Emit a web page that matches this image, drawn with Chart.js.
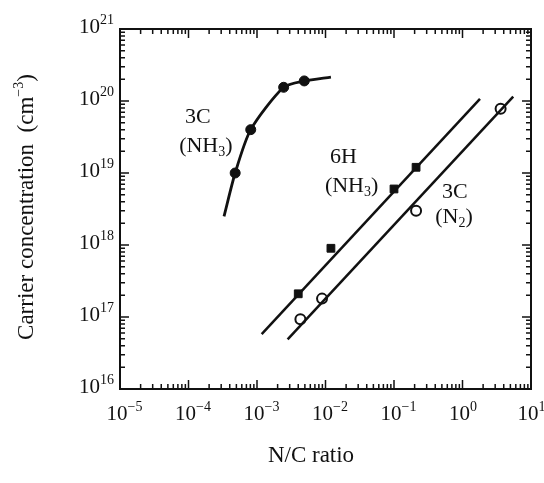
<!DOCTYPE html>
<html>
<head>
<meta charset="utf-8">
<script src="https://cdn.jsdelivr.net/npm/chart.js@4"></script>
<style>
  html, body { margin: 0; padding: 0; background: #fff; }
  #wrap { width: 544px; height: 483px; }
</style>
</head>
<body>
<div id="wrap"><canvas id="chart" width="544" height="483"></canvas></div>
<script>
// 3C grown with NH3 (filled circles + guide curve)
const nh3X = [4.8e-4, 8.1e-4, 2.45e-3, 4.9e-3];
const nh3Y = [1e19, 4e19, 1.55e20, 1.9e20];
const nh3CurveX = [3.3e-4, 4.8e-4, 8.1e-4, 2.45e-3, 4.9e-3, 1.2e-2];
const nh3CurveY = [2.5e18, 1e19, 4e19, 1.55e20, 1.9e20, 2.15e20];

// 6H grown with NH3 (filled squares + straight fit)
const h6X = [4e-3, 1.2e-2, 0.1, 0.21];
const h6Y = [2.1e17, 9e17, 6e18, 1.2e19];
const h6LineX = [1.17e-3, 1.8];
const h6LineY = [5.8e16, 1.07e20];

// 3C grown with N2 (open circles + straight fit)
const n2X = [4.3e-3, 8.9e-3, 0.21, 3.6];
const n2Y = [9.3e16, 1.8e17, 3e18, 7.8e19];
const n2LineX = [2.8e-3, 5.5];
const n2LineY = [4.9e16, 1.15e20];

const xExps = [-5, -4, -3, -2, -1, 0, 1];
const yExps = [16, 17, 18, 19, 20, 21];

const serif = '"Liberation Serif", "DejaVu Serif", serif';

const pts = (xs, ys) => xs.map((x, i) => ({ x, y: ys[i] }));

function supText(ctx, parts, x, y) {
  // parts: [text, size, dy]
  parts.forEach(p => {
    ctx.font = p[1] + 'px ' + serif;
    ctx.fillText(p[0], x, y + p[2]);
    x += ctx.measureText(p[0]).width;
  });
}

function expStr(e) {
  return e < 0 ? '\u2212' + Math.abs(e) : String(e);
}

const frame = {
  id: 'frame',
  afterDraw(chart) {
    const ctx = chart.ctx;
    const a = chart.chartArea;
    const xs = chart.scales.x, ys = chart.scales.y;
    ctx.save();
    ctx.strokeStyle = '#111';
    ctx.fillStyle = '#111';

    // ticks on all four sides, pointing inward
    ctx.lineWidth = 1.5;
    ctx.beginPath();
    for (let e = -5; e <= 1; e++) {
      for (let m = 1; m <= 9; m++) {
        const v = m * Math.pow(10, e);
        if (v > 10 || (e === 1 && m > 1)) continue;
        const px = xs.getPixelForValue(v);
        const len = m === 1 ? 9 : 5;
        ctx.moveTo(px, a.bottom); ctx.lineTo(px, a.bottom - len);
        ctx.moveTo(px, a.top); ctx.lineTo(px, a.top + len);
      }
    }
    for (let e = 16; e <= 21; e++) {
      for (let m = 1; m <= 9; m++) {
        if (e === 21 && m > 1) continue;
        const py = ys.getPixelForValue(m * Math.pow(10, e));
        const len = m === 1 ? 9 : 5;
        ctx.moveTo(a.left, py); ctx.lineTo(a.left + len, py);
        ctx.moveTo(a.right, py); ctx.lineTo(a.right - len, py);
      }
    }
    ctx.stroke();

    ctx.lineWidth = 2;
    ctx.strokeRect(a.left, a.top, a.right - a.left, a.bottom - a.top);

    // tick labels
    ctx.textBaseline = 'alphabetic';
    ctx.textAlign = 'left';
    xExps.forEach(e => {
      const px = xs.getPixelForValue(Math.pow(10, e));
      ctx.font = '21px ' + serif;
      const w = ctx.measureText('10').width;
      supText(ctx, [['10', 21, 0], [expStr(e), 14, -9]], px - 3 - w / 2, a.bottom + 31);
    });
    yExps.forEach(e => {
      const py = ys.getPixelForValue(Math.pow(10, e));
      ctx.font = '21px ' + serif;
      const w = ctx.measureText('10').width;
      ctx.fillText('10', 100 - w, py + 4);
      ctx.font = '14px ' + serif;
      ctx.fillText(expStr(e), 100, py - 5);
    });

    // axis titles
    ctx.font = '23px ' + serif;
    ctx.textAlign = 'center';
    ctx.fillText('N/C ratio', 311, 462);

    ctx.save();
    ctx.translate(33, 207);
    ctx.rotate(-Math.PI / 2);
    const t1 = 'Carrier concentration  (cm';
    ctx.font = '23px ' + serif;
    const w1 = ctx.measureText(t1).width;
    const w2 = ctx.measureText(')').width;
    ctx.font = '14px ' + serif;
    const w3 = ctx.measureText('\u22123').width;
    const total = w1 + w2 + w3;
    ctx.textAlign = 'left';
    supText(ctx, [[t1, 23, 0], ['\u22123', 14, -10], [')', 23, 0]], -total / 2, 0);
    ctx.restore();

    // series annotations, placed in data space
    ctx.textAlign = 'left';
    const labels = [
      [[['3C', 22, 0]], 8.9e-5, 4.9e19],
      [[['(NH', 22, 0], ['3', 14, 4], [')', 22, 0]], 7.3e-5, 1.96e19],
      [[['6H', 22, 0]], 1.16e-2, 1.38e19],
      [[['(NH', 22, 0], ['3', 14, 4], [')', 22, 0]], 9.8e-3, 5.4e18],
      [[['3C', 22, 0]], 0.5, 4.5e18],
      [[['(N', 22, 0], ['2', 14, 4], [')', 22, 0]], 0.4, 2.0e18]
    ];
    labels.forEach(l => {
      supText(ctx, l[0], xs.getPixelForValue(l[1]), ys.getPixelForValue(l[2]));
    });
    ctx.restore();
  }
};

new Chart(document.getElementById('chart'), {
  type: 'scatter',
  data: {
    datasets: [
      {
        data: pts(nh3CurveX, nh3CurveY),
        showLine: true, borderColor: '#111', borderWidth: 2.8,
        pointRadius: 0, tension: 0.25
      },
      {
        data: pts(nh3X, nh3Y),
        pointStyle: 'circle', pointRadius: 5,
        backgroundColor: '#111', borderColor: '#111', borderWidth: 1
      },
      {
        data: pts(h6LineX, h6LineY),
        showLine: true, borderColor: '#111', borderWidth: 2.5, pointRadius: 0
      },
      {
        data: pts(h6X, h6Y),
        pointStyle: 'rect', pointRadius: 5.5,
        backgroundColor: '#111', borderColor: '#111', borderWidth: 1
      },
      {
        data: pts(n2LineX, n2LineY),
        showLine: true, borderColor: '#111', borderWidth: 2.5, pointRadius: 0
      },
      {
        data: pts(n2X, n2Y),
        pointStyle: 'circle', pointRadius: 5,
        backgroundColor: '#fff', borderColor: '#111', borderWidth: 2
      }
    ]
  },
  options: {
    responsive: false,
    animation: false,
    layout: { padding: { left: 120, right: 13, top: 29, bottom: 94 } },
    plugins: { legend: { display: false }, tooltip: { enabled: false } },
    scales: {
      x: { type: 'logarithmic', min: 1e-5, max: 10, display: false },
      y: { type: 'logarithmic', min: 1e16, max: 1e21, display: false }
    }
  },
  plugins: [frame]
});
</script>
</body>
</html>
